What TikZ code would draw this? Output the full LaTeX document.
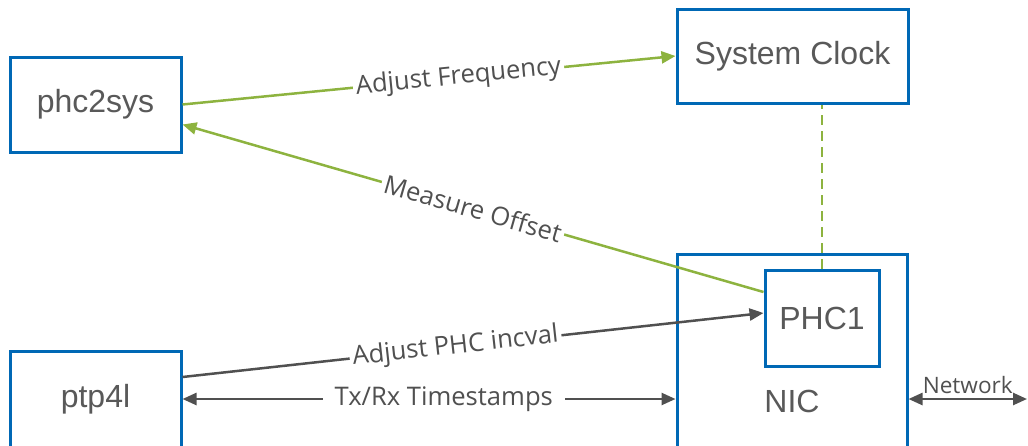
\documentclass[tikz,border=0pt]{standalone}
\usepackage{fontspec}
\setmainfont{Liberation Sans}
\newfontfamily\lblfont{Open Sans}
\usetikzlibrary{arrows.meta,positioning,calc}

\definecolor{boxblue}{HTML}{0068B5}
\definecolor{linkgreen}{HTML}{8DB33F}
\definecolor{linkgray}{HTML}{505050}
\definecolor{txtgray}{HTML}{595959}

\tikzset{
	block/.style={draw=boxblue, line width=1.5pt, fill=white, text=txtgray,
		font=\fontsize{16}{19}\selectfont, inner sep=0pt},
	ctrl/.style={draw=linkgreen, line width=1.25pt, -{Triangle[length=7pt,width=6pt]}},
	data/.style={draw=linkgray, line width=1.25pt, -{Triangle[length=7pt,width=6pt]}},
	both/.style={{Triangle[length=7pt,width=6pt]}-{Triangle[length=7pt,width=6pt]}},
	lbl/.style={fill=white, text=linkgray, font=\lblfont\fontsize{12.8}{15}\selectfont,
		inner sep=1.5pt, sloped},
}

\begin{document}
\begin{tikzpicture}[x=0.5pt,y=-0.5pt]
			
			\useasboundingbox (0,0) rectangle (1028,445);
			\clip (0,0) rectangle (1028,445);
			
			\node[block, minimum width=85.5pt, minimum height=47.5pt](phc2sys) at (95.5,104.5){phc2sys};
			\node[block, minimum width=115.5pt, minimum height=47pt](sysclk) at (792.5,56){System Clock};
			\node[block, minimum width=85.5pt, minimum height=48pt](ptp4l) at (95.5,399){ptp4l};
			
			
			\node[block, minimum width=115pt, minimum height=147pt](nic) at (792,401){NIC};
			\node[block, minimum width=57pt, minimum height=48pt](phc) at (822,318){PHC1};
			\coordinate (net) at (1027,399);
			
			\draw[ctrl] (phc2sys.east) -- node[lbl, pos=0.56]{Adjust Frequency} (sysclk.west);
			\draw[ctrl] ($(phc.west)+(0,-26)$) -- node[lbl, pos=0.5]{Measure Offset} ($(phc2sys.east)+(0,20)$);
			\draw[ctrl, -, dash pattern=on 5pt off 3pt] (phc.north) -- (phc.north |- sysclk.south);
			\draw[data] ($(ptp4l.east)+(0,-22)$) -- node[lbl, pos=0.47]{Adjust PHC incval} ($(phc.west)+(0,-5)$);
			\draw[data, both] (ptp4l.east) -- node[lbl, pos=0.53, inner xsep=6pt]{Tx/Rx Timestamps} (ptp4l.east -| nic.west);
			\draw[data, both] (nic.east |- net) -- node[above, text=linkgray, font=\lblfont\fontsize{11.3}{13}\selectfont, inner sep=2pt]{Network} (net);

		\end{tikzpicture}
\end{document}
